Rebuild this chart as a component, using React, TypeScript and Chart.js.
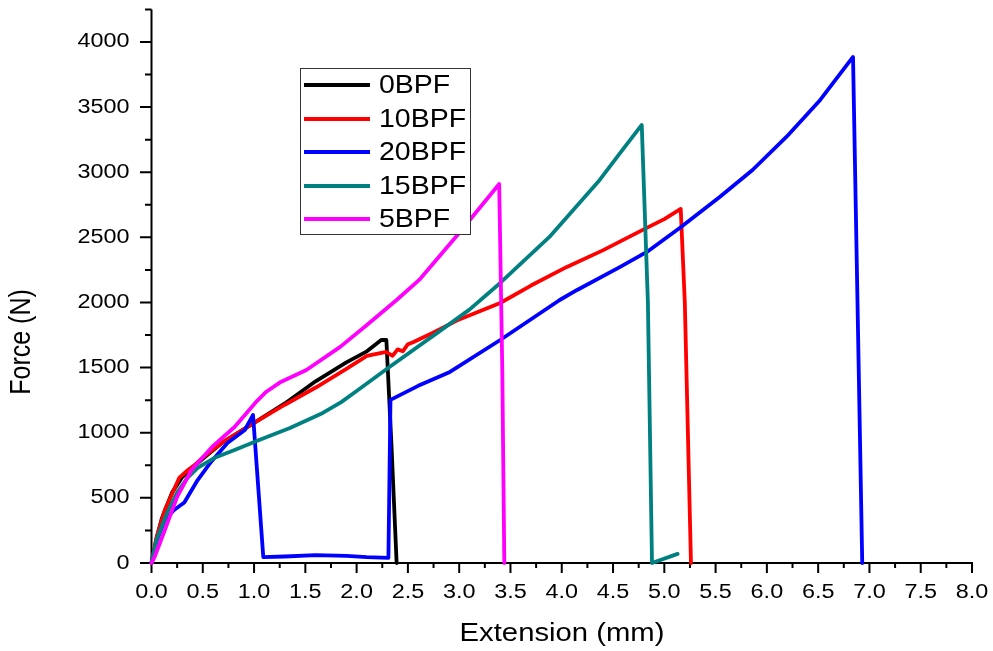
import React, { useEffect, useRef } from "react";
import { Chart, registerables } from "chart.js";

Chart.register(...registerables);

// ---- Data (Extension mm, Force N) ----
const bpf0X = [0, 0.05, 0.1, 0.2, 0.3, 0.4, 0.5, 0.7, 1.0, 1.3, 1.6, 1.9, 2.1, 2.24, 2.29, 2.34, 2.39];
const bpf0Y = [0, 190, 340, 540, 660, 730, 800, 930, 1075, 1225, 1395, 1540, 1625, 1712, 1712, 900, 0];

const bpf10X = [0, 0.05, 0.13, 0.2, 0.27, 0.35, 0.42, 0.5, 0.7, 1.0, 1.3, 1.61, 1.9, 2.1, 2.29, 2.35, 2.4, 2.45, 2.5, 2.55, 2.74, 3.0, 3.4, 3.7, 4.05, 4.4, 4.79, 5.0, 5.16, 5.2, 5.26];
const bpf10Y = [0, 200, 407, 530, 653, 710, 752, 810, 930, 1075, 1215, 1351, 1490, 1590, 1620, 1590, 1640, 1625, 1680, 1695, 1766, 1870, 1996, 2130, 2273, 2400, 2557, 2640, 2718, 2000, 0];

const bpf20X = [0, 0.05, 0.13, 0.22, 0.32, 0.45, 0.58, 0.74, 0.91, 0.99, 1.09, 1.3, 1.6, 1.9, 2.1, 2.31, 2.33, 2.6, 2.91, 3.4, 3.98, 4.15, 4.57, 4.83, 5.15, 5.54, 5.86, 6.19, 6.52, 6.84, 6.93];
const bpf20Y = [0, 170, 330, 407, 465, 637, 776, 921, 1021, 1136, 45, 50, 60, 55, 45, 40, 1252, 1360, 1467, 1712, 2019, 2096, 2273, 2388, 2572, 2810, 3017, 3271, 3555, 3885, 0];

const bpf15X = [0, 0.05, 0.15, 0.25, 0.35, 0.45, 0.61, 0.81, 1.05, 1.35, 1.67, 1.85, 2.0, 2.32, 2.81, 3.1, 3.4, 3.88, 4.37, 4.57, 4.78, 4.84, 4.88, 5.13];
const bpf15Y = [0, 180, 380, 540, 653, 730, 806, 868, 944, 1036, 1152, 1235, 1320, 1505, 1780, 1945, 2150, 2503, 2941, 3148, 3363, 2000, 0, 70];

const bpf5X = [0, 0.03, 0.08, 0.13, 0.25, 0.39, 0.59, 0.81, 1.03, 1.12, 1.25, 1.51, 1.84, 2.1, 2.39, 2.61, 3.0, 3.39, 3.42, 3.44];
const bpf5Y = [0, 46, 150, 253, 507, 714, 891, 1044, 1245, 1315, 1385, 1482, 1659, 1827, 2019, 2173, 2534, 2910, 1500, 0];

const seriesNames = ["0BPF", "10BPF", "20BPF", "15BPF", "5BPF"];
const seriesColors = ["#000000", "#ff0000", "#0000ff", "#008080", "#ff00ff"];

const xTickLabels = ["0.0", "0.5", "1.0", "1.5", "2.0", "2.5", "3.0", "3.5", "4.0", "4.5", "5.0", "5.5", "6.0", "6.5", "7.0", "7.5", "8.0"];
const yTickLabels = ["0", "500", "1000", "1500", "2000", "2500", "3000", "3500", "4000"];

const xTitle = "Extension (mm)";
const yTitle = "Force (N)";

const FONT = '"Liberation Sans", Arial, sans-serif';
const STRETCH = 1.17;

function stretchedText(
  ctx: CanvasRenderingContext2D,
  text: string,
  x: number,
  y: number,
  align: CanvasTextAlign,
  sx: number,
  rotate = 0
) {
  ctx.save();
  ctx.translate(x, y);
  ctx.scale(sx, 1);
  if (rotate) ctx.rotate(rotate);
  ctx.textAlign = align;
  ctx.textBaseline = "middle";
  ctx.fillText(text, 0, 0);
  ctx.restore();
}

const axesPlugin = {
  id: "originAxes",
  beforeDatasetsDraw(chart: any) {
    const { ctx, scales } = chart;
    const xs = scales.x;
    const ys = scales.y;
    const x0 = xs.getPixelForValue(0);
    const y0 = ys.getPixelForValue(0);
    ctx.save();
    ctx.strokeStyle = "#000";
    ctx.lineWidth = 2;
    ctx.lineCap = "butt";
    ctx.beginPath();
    ctx.moveTo(x0 - 1, y0);
    ctx.lineTo(xs.getPixelForValue(xs.max) + 1, y0);
    ctx.moveTo(x0, y0 + 1);
    ctx.lineTo(x0, ys.getPixelForValue(ys.max));
    // x ticks
    for (let v = 0; v <= xs.max + 1e-9; v += 0.25) {
      const px = xs.getPixelForValue(v);
      const major = Math.abs(v * 2 - Math.round(v * 2)) < 1e-6;
      ctx.moveTo(px, y0);
      ctx.lineTo(px, y0 + (major ? 10 : 5));
    }
    // y ticks
    for (let v = 0; v <= ys.max + 1e-9; v += 250) {
      const py = ys.getPixelForValue(v);
      const major = v % 500 === 0;
      ctx.moveTo(x0, py);
      ctx.lineTo(x0 - (major ? 11.5 : 6.5), py);
    }
    ctx.stroke();

    // tick labels
    ctx.fillStyle = "#000";
    ctx.font = `20px ${FONT}`;
    xTickLabels.forEach((lab) => {
      const px = xs.getPixelForValue(parseFloat(lab));
      stretchedText(ctx, lab, px, y0 + 29, "center", STRETCH);
    });
    yTickLabels.forEach((lab) => {
      const py = ys.getPixelForValue(parseFloat(lab));
      stretchedText(ctx, lab, x0 - 22, py, "right", STRETCH);
    });

    // axis titles
    ctx.font = `25px ${FONT}`;
    stretchedText(ctx, xTitle, 562, 634, "center", STRETCH);
    stretchedText(ctx, yTitle, 22, 342, "center", STRETCH, -Math.PI / 2);
    ctx.restore();
  },
  afterDraw(chart: any) {
    const { ctx } = chart;
    ctx.save();
    // legend box
    const bx = 300.5, by = 68.5, bw = 170, bh = 166;
    ctx.fillStyle = "#ffffff";
    ctx.fillRect(bx, by, bw, bh);
    ctx.strokeStyle = "#333";
    ctx.lineWidth = 1;
    ctx.strokeRect(bx, by, bw, bh);
    const rowY = [85, 119, 152, 186, 219];
    ctx.font = `25px ${FONT}`;
    seriesNames.forEach((name, i) => {
      ctx.strokeStyle = seriesColors[i];
      ctx.lineWidth = 4;
      ctx.beginPath();
      ctx.moveTo(304, rowY[i]);
      ctx.lineTo(370, rowY[i]);
      ctx.stroke();
      ctx.fillStyle = "#000";
      stretchedText(ctx, name, 379, rowY[i] + 1, "left", 1.14);
    });
    ctx.restore();
  },
};

function toPoints(xs: number[], ys: number[]) {
  return xs.map((x, i) => ({ x, y: ys[i] }));
}

export default function App() {
  const canvasRef = useRef<HTMLCanvasElement | null>(null);

  useEffect(() => {
    if (!canvasRef.current) return;
    const seriesX = [bpf0X, bpf10X, bpf20X, bpf15X, bpf5X];
    const seriesY = [bpf0Y, bpf10Y, bpf20Y, bpf15Y, bpf5Y];
    const chart = new Chart(canvasRef.current, {
      type: "line",
      data: {
        datasets: seriesNames.map((name, i) => ({
          label: name,
          data: toPoints(seriesX[i], seriesY[i]),
          borderColor: seriesColors[i],
          backgroundColor: seriesColors[i],
          borderWidth: 3.8,
          pointRadius: 0,
          tension: 0,
          fill: false,
          clip: false as any,
          order: seriesNames.length - 1 - i,
          borderJoinStyle: "round" as const,
          borderCapStyle: "round" as const,
        })),
      },
      options: {
        animation: false,
        responsive: false,
        devicePixelRatio: 1,
        parsing: false as any,
        layout: { padding: { left: 151.5, right: 21, top: 9.4, bottom: 88 } },
        scales: {
          x: { type: "linear", min: 0, max: 8, display: false },
          y: { type: "linear", min: 0, max: 4250, display: false },
        },
        plugins: {
          legend: { display: false },
          tooltip: { enabled: false },
        },
        events: [],
      },
      plugins: [axesPlugin],
    });
    return () => chart.destroy();
  }, []);

  return (
    <div style={{ position: "fixed", left: 0, top: 0, width: 993, height: 651, background: "#fff" }}>
      <canvas ref={canvasRef} width={993} height={651} style={{ display: "block" }} />
    </div>
  );
}
